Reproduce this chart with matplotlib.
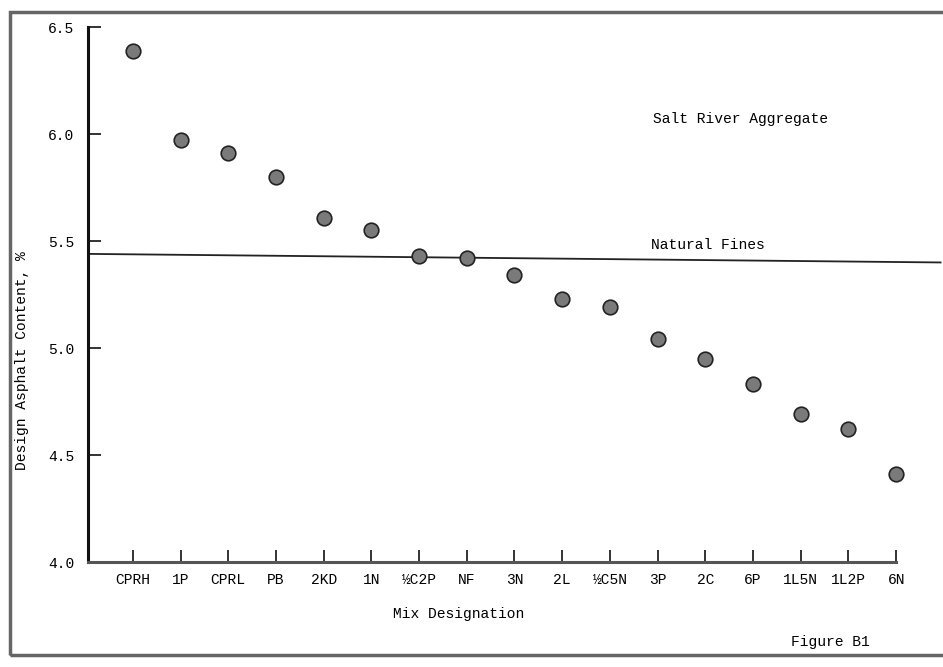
import numpy as np
import matplotlib.pyplot as plt
from matplotlib.patches import Rectangle
import matplotlib.transforms as mtransforms

# 数据
mixes = ["CPRH", "1P", "CPRL", "PB", "2KD", "1N", "½C2P", "NF", "3N",
         "2L", "½C5N", "3P", "2C", "6P", "1L5N", "1L2P", "6N"]
asphalt = [6.39, 5.97, 5.91, 5.80, 5.61, 5.55, 5.43, 5.42, 5.34,
           5.23, 5.19, 5.04, 4.95, 4.83, 4.69, 4.62, 4.41]
natural_fines = [5.44, 5.40]  # 左端, 右端
y_ticks = [4.0, 4.5, 5.0, 5.5, 6.0, 6.5]

plt.rcParams['font.family'] = ['Liberation Mono', 'DejaVu Sans Mono']
plt.rcParams['font.size'] = 10.5

fig = plt.figure(figsize=(9.43, 6.67), dpi=100)
ax = fig.add_axes([0.0933, 0.1574, 0.857, 0.802])

x = np.arange(len(mixes))
ax.plot(x, asphalt, 'o', ms=10.5, mfc='#7a7a7a', mec='#222222', mew=1.2, ls='none',
        clip_on=False, zorder=3)

# Natural Fines 水平线, 延伸到图右边
trans = mtransforms.blended_transform_factory(ax.transAxes, ax.transData)
ax.plot([0, 1.055], natural_fines, color='#222222', lw=1.3, transform=trans, clip_on=False)
ax.text(0.697, natural_fines[0] + 0.008, "Natural Fines", transform=trans, ha='left', va='bottom')
ax.text(0.699, 6.04, "Salt River Aggregate", transform=trans, ha='left', va='bottom')

ax.set_xlim(-0.94, 16)
ax.set_ylim(4.0, 6.5)
ax.set_xticks(x)
ax.set_xticklabels(mixes)
ax.set_yticks(y_ticks)
ax.set_yticklabels([f"{v:.1f}" for v in y_ticks])

for s in ['top', 'right']:
    ax.spines[s].set_visible(False)
ax.spines['left'].set_linewidth(2.2)
ax.spines['bottom'].set_linewidth(2.2)
ax.spines['left'].set_color('#111111')
ax.spines['bottom'].set_color('#555555')

ax.tick_params(axis='both', direction='in', length=9, width=1.2, color='#111111')
ax.tick_params(axis='x', pad=8)
ax.tick_params(axis='y', pad=10)

ax.set_xlabel("Mix Designation", labelpad=16)
ax.xaxis.set_label_coords(0.459, -0.085)
fig.text(0.023, 0.46, "Design Asphalt Content, %", rotation=90, ha='center', va='center')
fig.text(0.922, 0.037, "Figure B1", ha='right', va='center')

# 外框
fig.patches.append(Rectangle((0.011, 0.018), 1.2, 0.964, transform=fig.transFigure,
                             fill=False, lw=2.5, ec='#666666'))

fig.savefig("out.png", dpi=100)
